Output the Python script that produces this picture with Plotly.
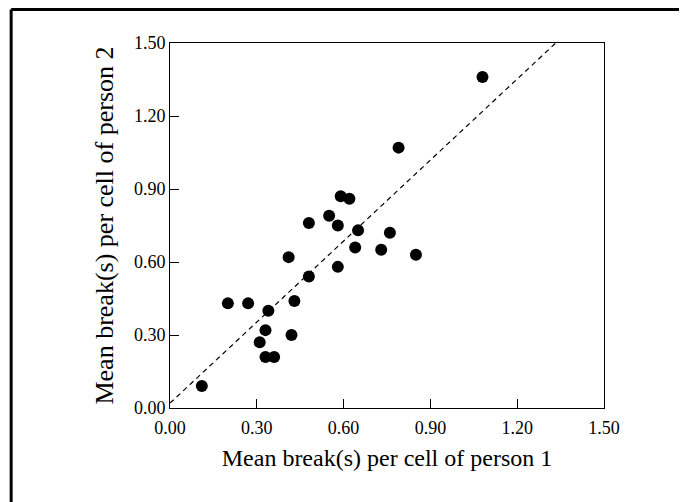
import plotly.graph_objects as go

# Data
person1 = [0.11, 0.20, 0.27, 0.34, 0.33, 0.31, 0.33, 0.36, 0.42, 0.43, 0.41, 0.48, 0.48,
           0.55, 0.58, 0.58, 0.65, 0.64, 0.73, 0.76, 0.59, 0.62, 0.79, 1.08, 0.85]
person2 = [0.09, 0.43, 0.43, 0.40, 0.32, 0.27, 0.21, 0.21, 0.30, 0.44, 0.62, 0.54, 0.76,
           0.79, 0.75, 0.58, 0.73, 0.66, 0.65, 0.72, 0.87, 0.86, 1.07, 1.36, 0.63]
fit_intercept = 0.02
fit_slope = 1.11
tick_vals = [0.0, 0.3, 0.6, 0.9, 1.2, 1.5]
tick_text = ["0.00", "0.30", "0.60", "0.90", "1.20", "1.50"]

FONT = "Liberation Serif"

fig = go.Figure()
fit_x = [tick_vals[0], tick_vals[-1]]
fit_y = [fit_intercept + fit_slope * v for v in fit_x]
fig.add_trace(go.Scatter(x=fit_x, y=fit_y, mode="lines",
                         line=dict(color="black", width=1.2, dash="5px,4px"),
                         showlegend=False, hoverinfo="skip"))
fig.add_trace(go.Scatter(x=person1, y=person2, mode="markers",
                         marker=dict(color="black", size=12),
                         showlegend=False))

axis_common = dict(
    range=[0, 1.5], tickvals=tick_vals, ticktext=tick_text,
    ticks="inside", ticklen=9, tickwidth=1, tickcolor="black",
    showline=True, linecolor="black", linewidth=1, mirror=True,
    showgrid=False, zeroline=False,
    tickfont=dict(family=FONT, size=18, color="black"),
)
fig.update_xaxes(**axis_common, ticklabelstandoff=3,
                 title=dict(text="Mean break(s) per cell of person 1",
                            font=dict(family=FONT, size=24, color="black"), standoff=12))
fig.update_yaxes(**axis_common,
                 title=dict(text="Mean break(s) per cell of person 2",
                            font=dict(family=FONT, size=26, color="black"), standoff=12))

# outer frame: only its top and left edges fall inside the picture
fig.add_shape(type="line", xref="paper", yref="paper",
              x0=-0.366, x1=1.6, y0=1.092, y1=1.092,
              line=dict(color="black", width=3))
fig.add_shape(type="line", xref="paper", yref="paper",
              x0=-0.366, x1=-0.366, y0=-0.5, y1=1.092,
              line=dict(color="black", width=3))

fig.update_layout(
    width=679, height=494,
    margin=dict(l=162, r=83, t=35, b=94),
    paper_bgcolor="white", plot_bgcolor="white",
    font=dict(family=FONT, color="black"),
)
fig.write_html("out.html")
